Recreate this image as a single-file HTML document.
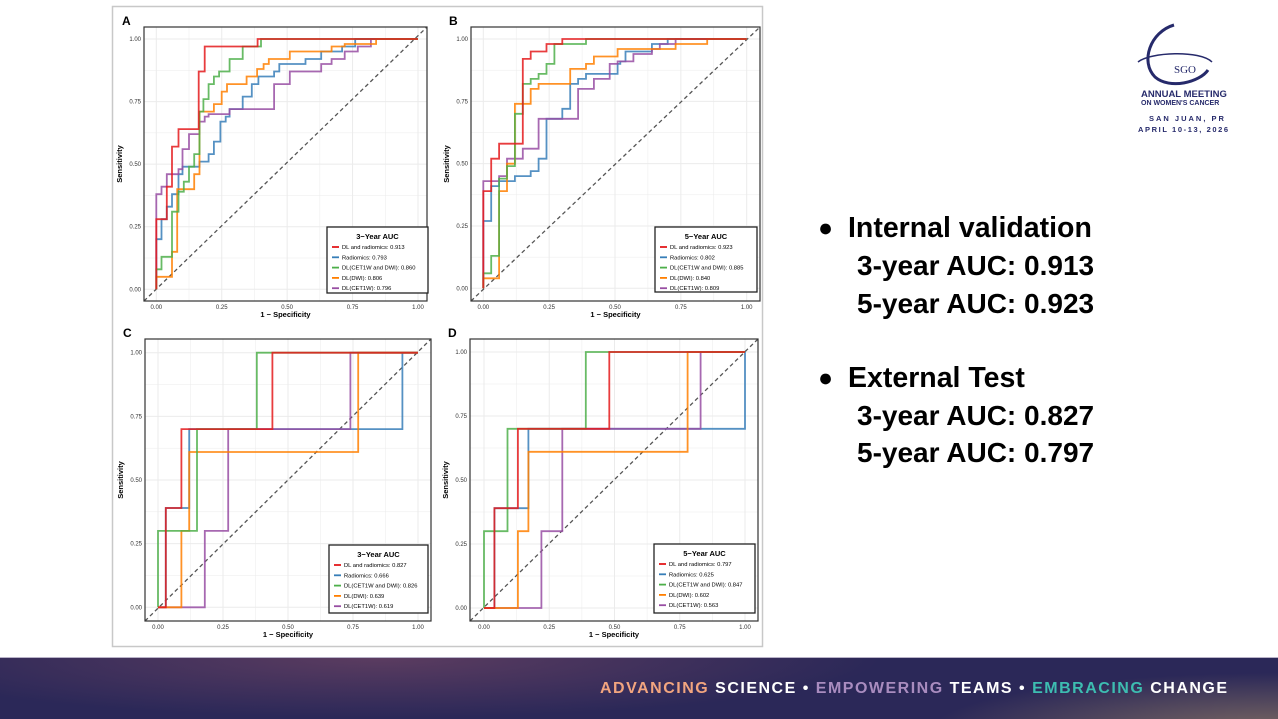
<!DOCTYPE html>
<html><head><meta charset="utf-8"><style>
html,body{margin:0;padding:0;width:1278px;height:718px;overflow:hidden;background:#fff;font-family:"Liberation Sans",sans-serif}
#fig{position:absolute;left:0;top:0}
.rt{position:absolute;font-weight:bold;color:#000;font-size:28px;white-space:nowrap}
.bl{position:absolute;font-size:25px;color:#000}
.banner{position:absolute;left:0;top:657px;width:1278px;height:61px;border-top:1px solid #b9b3c8;
background:radial-gradient(ellipse 500px 60px at 380px 0px,#5b3c60 0%,rgba(42,40,88,0) 100%),radial-gradient(ellipse 350px 60px at 1278px 75px,#7d6a62 0%,rgba(42,40,88,0) 100%),#2b2858}
.tag{position:absolute;left:600px;top:680px;font-size:16px;font-weight:bold;color:#fff;letter-spacing:1.5px;white-space:nowrap;font-family:"Liberation Sans",sans-serif}
</style></head><body>
<svg id="fig" width="1278" height="718" xmlns="http://www.w3.org/2000/svg"></svg>
<div class="bl" style="left:818px;top:214px">●</div>
<div class="rt" style="left:848px;top:212px;font-size:28.5px">Internal validation</div>
<div class="rt" style="left:857px;top:250px">3-year AUC: 0.913</div>
<div class="rt" style="left:857px;top:288px">5-year AUC: 0.923</div>
<div class="bl" style="left:818px;top:364px">●</div>
<div class="rt" style="left:848px;top:362px;font-size:28.5px">External Test</div>
<div class="rt" style="left:857px;top:400px">3-year AUC: 0.827</div>
<div class="rt" style="left:857px;top:437px">5-year AUC: 0.797</div>
<div class="banner"></div>
<div class="tag"><span style="color:#f2a57f">ADVANCING</span> SCIENCE • <span style="color:#a98cbf">EMPOWERING</span> TEAMS • <span style="color:#3dbdb1">EMBRACING</span> CHANGE</div>
<svg style="position:absolute;left:1130px;top:22px" width="120" height="115" xmlns="http://www.w3.org/2000/svg">
<g fill="none" stroke="#262a6b" stroke-width="3">
<path d="M 44 3 C 20 10, 10 40, 25 55 C 40 68, 70 60, 78 48" />
<path d="M 8 40 C 20 30, 70 28, 82 40" stroke-width="1.5"/>
</g>
<text x="44" y="51" font-family="Liberation Serif,serif" font-size="11" fill="#262a6b">SGO</text>
<text x="11" y="75" font-family="Liberation Sans,sans-serif" font-weight="bold" font-size="9.5" fill="#262a6b">ANNUAL MEETING</text>
<text x="11" y="83" font-family="Liberation Sans,sans-serif" font-weight="bold" font-size="7" fill="#262a6b">ON WOMEN'S CANCER</text>
<text x="19" y="99" font-family="Liberation Sans,sans-serif" font-size="7.5" font-weight="bold" letter-spacing="2" fill="#262a6b">SAN JUAN, PR</text>
<text x="8" y="110" font-family="Liberation Sans,sans-serif" font-size="7.5" font-weight="bold" letter-spacing="1.6" fill="#262a6b">APRIL 10-13, 2026</text>
</svg>
<script>
const C={r:"#e41a1c",b:"#377eb8",g:"#4daf4a",o:"#ff7f00",p:"#984ea3"};
const panels=[
{L:"A",rect:[144,27,427,301],x0:156.3,x1:418,y0:289.3,y1:39,leg:[327,227,428,293],title:"3−Year AUC",
 names:["DL and radiomics: 0.913","Radiomics: 0.793","DL(CET1W and DWI): 0.860","DL(DWI): 0.806","DL(CET1W): 0.796"],
 s:{b:"0,0 0,.2 .02,.2 .02,.28 .04,.28 .04,.33 .06,.33 .06,.38 .085,.38 .085,.46 .1,.46 .1,.49 .165,.49 .165,.51 .2,.51 .2,.54 .22,.54 .22,.59 .245,.59 .245,.67 .265,.67 .265,.69 .28,.69 .28,.72 .33,.72 .33,.77 .365,.77 .365,.82 .39,.82 .39,.85 .45,.85 .45,.87 .47,.87 .47,.9 .57,.9 .57,.92 .63,.92 .63,.95 .71,.95 .71,.97 .76,.97 .76,1 1,1",
 p:"0,0 0,.38 .02,.38 .02,.41 .04,.41 .04,.46 .085,.46 .085,.48 .1,.48 .1,.56 .125,.56 .125,.62 .165,.62 .165,.67 .185,.67 .185,.69 .2,.69 .2,.7 .28,.7 .28,.72 .45,.72 .45,.82 .51,.82 .51,.87 .63,.87 .63,.9 .67,.9 .67,.92 .72,.92 .72,.95 .77,.95 .77,.97 .82,.97 .82,1 1,1",
 o:"0,0 0,.05 .06,.05 .06,.15 .08,.15 .08,.4 .145,.4 .145,.46 .165,.46 .165,.71 .22,.71 .22,.74 .25,.74 .25,.79 .27,.79 .27,.82 .345,.82 .345,.85 .385,.85 .385,.88 .41,.88 .41,.9 .43,.9 .43,.92 .51,.92 .51,.95 .67,.95 .67,.97 .72,.97 .72,.98 .84,.98 .84,1 1,1",
 g:"0,0 0,.08 .02,.08 .02,.13 .06,.13 .06,.31 .085,.31 .085,.39 .105,.39 .105,.43 .125,.43 .125,.49 .145,.49 .145,.54 .165,.54 .165,.71 .18,.71 .18,.76 .2,.76 .2,.82 .22,.82 .22,.85 .24,.85 .24,.87 .28,.87 .28,.92 .33,.92 .33,.97 .4,.97 .4,1 1,1",
 r:"0,0 0,.28 .04,.28 .04,.41 .06,.41 .06,.57 .085,.57 .085,.64 .162,.64 .162,.87 .185,.87 .185,.97 .387,.97 .387,1 1,1"},
 tk:["0.00","0.25","0.50","0.75","1.00"]},
{L:"B",rect:[471,27,760,301],x0:483.3,x1:746.7,y0:288.3,y1:39,leg:[655,227,757,292],title:"5−Year AUC",
 names:["DL and radiomics: 0.923","Radiomics: 0.802","DL(CET1W and DWI): 0.885","DL(DWI): 0.840","DL(CET1W): 0.809"],
 s:{b:"0,0 0,.27 .03,.27 .03,.41 .06,.41 .06,.43 .12,.43 .12,.45 .18,.45 .18,.47 .21,.47 .21,.52 .24,.52 .24,.68 .3,.68 .3,.72 .33,.72 .33,.82 .36,.82 .36,.84 .39,.84 .39,.86 .51,.86 .51,.9 .52,.9 .52,.91 .54,.91 .54,.95 .64,.95 .64,.98 .7,.98 .7,1 1,1",
 p:"0,0 0,.43 .06,.43 .06,.45 .09,.45 .09,.52 .15,.52 .15,.56 .21,.56 .21,.68 .36,.68 .36,.8 .42,.8 .42,.84 .48,.84 .48,.9 .51,.9 .51,.91 .57,.91 .57,.94 .64,.94 .64,.96 .67,.96 .67,.98 .73,.98 .73,1 1,1",
 o:"0,0 0,.04 .06,.04 .06,.39 .09,.39 .09,.5 .12,.5 .12,.74 .18,.74 .18,.8 .21,.8 .21,.82 .33,.82 .33,.88 .39,.88 .39,.9 .42,.9 .42,.93 .51,.93 .51,.96 .73,.96 .73,.98 .85,.98 .85,1 1,1",
 g:"0,0 0,.06 .03,.06 .03,.13 .06,.13 .06,.44 .09,.44 .09,.49 .12,.49 .12,.7 .15,.7 .15,.82 .18,.82 .18,.84 .21,.84 .21,.86 .24,.86 .24,.9 .27,.9 .27,.98 .39,.98 .39,1 1,1",
 r:"0,0 0,.39 .03,.39 .03,.52 .06,.52 .06,.58 .15,.58 .15,.92 .18,.92 .18,.95 .24,.95 .24,.98 .3,.98 .3,1 1,1"},
 tk:["0.00","0.25","0.50","0.75","1.00"]},
{L:"C",rect:[145,339,431,621],x0:158,x1:418,y0:607.3,y1:352.7,leg:[329,545,428,613],title:"3−Year AUC",
 names:["DL and radiomics: 0.827","Radiomics: 0.666","DL(CET1W and DWI): 0.826","DL(DWI): 0.639","DL(CET1W): 0.619"],
 s:{g:"0,0 0,.3 .15,.3 .15,.7 .38,.7 .38,1 1,1",o:"0,0 .09,0 .09,.3 .12,.3 .12,.61 .77,.61 .77,1 1,1",
 b:"0,0 .03,0 .03,.39 .12,.39 .12,.7 .94,.7 .94,1 1,1",p:"0,0 .18,0 .18,.3 .27,.3 .27,.7 .74,.7 .74,1 1,1",
 r:"0,0 .03,0 .03,.39 .09,.39 .09,.7 .44,.7 .44,1 1,1"},
 tk:["0.00","0.25","0.50","0.75","1.00"]},
{L:"D",rect:[470,339,758,621],x0:484,x1:745,y0:608,y1:352,leg:[654,544,755,613],title:"5−Year AUC",
 names:["DL and radiomics: 0.797","Radiomics: 0.625","DL(CET1W and DWI): 0.847","DL(DWI): 0.602","DL(CET1W): 0.563"],
 s:{g:"0,0 0,.3 .09,.3 .09,.7 .39,.7 .39,1 1,1",o:"0,0 .13,0 .13,.3 .17,.3 .17,.61 .78,.61 .78,1 1,1",
 b:"0,0 .04,0 .04,.39 .17,.39 .17,.7 1,.7 1,1",p:"0,0 .22,0 .22,.3 .3,.3 .3,.7 .83,.7 .83,1 1,1",
 r:"0,0 .04,0 .04,.39 .13,.39 .13,.7 .48,.7 .48,1 1,1"},
 tk:["0.00","0.25","0.50","0.75","1.00"]}
];
let h='<rect x="112.5" y="6.5" width="650" height="640" fill="#fff" stroke="#c8c8c8" stroke-width="1.5"/>';
for(const P of panels){
 const X=v=>P.x0+v*(P.x1-P.x0),Y=v=>P.y0+v*(P.y1-P.y0);
 const [rx0,ry0,rx1,ry1]=P.rect;
 h+=`<text x="${rx0-22}" y="${ry0-2}" font-size="12" font-weight="bold" font-family="Liberation Sans,sans-serif">${P.L}</text>`;
 for(let i=0;i<=8;i++){const v=i/8;const w=i%2?0.5:1;
  h+=`<line x1="${X(v)}" x2="${X(v)}" y1="${ry0}" y2="${ry1}" stroke="#ebebeb" stroke-width="${w}"/>`;
  h+=`<line y1="${Y(v)}" y2="${Y(v)}" x1="${rx0}" x2="${rx1}" stroke="#ebebeb" stroke-width="${w}"/>`;}
 h+=`<line x1="${rx0}" y1="${ry1}" x2="${rx1}" y2="${ry0}" stroke="#555" stroke-width="1.3" stroke-dasharray="4,3"/>`;
 const toPts=s=>s.split(" ").map(q=>{const [a,b]=q.split(",").map(Number);return X(a).toFixed(1)+","+Y(b).toFixed(1)}).join(" ");
 for(const k of ["b","p","o","g","r"]) h+=`<polyline points="${toPts(P.s[k])}" fill="none" stroke="${C[k]}" stroke-width="1.8" stroke-opacity="0.85"/>`;
 h+=`<rect x="${rx0}" y="${ry0}" width="${rx1-rx0}" height="${ry1-ry0}" fill="none" stroke="#333" stroke-width="1.2"/>`;
 for(let i=0;i<5;i++){const v=i/4;
  h+=`<text x="${X(v)}" y="${ry1+8}" font-size="6" text-anchor="middle" fill="#333">${P.tk[i]}</text>`;
  h+=`<text x="${rx0-3}" y="${Y(v)+2}" font-size="6" text-anchor="end" fill="#333">${P.tk[i]}</text>`;}
 h+=`<text x="${(rx0+rx1)/2}" y="${ry1+16}" font-size="7.5" font-weight="bold" text-anchor="middle">1 − Specificity</text>`;
 h+=`<text transform="translate(${rx0-22},${(ry0+ry1)/2}) rotate(-90)" font-size="7.5" font-weight="bold" text-anchor="middle">Sensitivity</text>`;
 const [lx0,ly0,lx1,ly1]=P.leg;
 h+=`<rect x="${lx0}" y="${ly0}" width="${lx1-lx0}" height="${ly1-ly0}" fill="#fff" stroke="#222" stroke-width="1.3"/>`;
 h+=`<text x="${(lx0+lx1)/2}" y="${ly0+12}" font-size="7.5" font-weight="bold" text-anchor="middle">${P.title}</text>`;
 const cols=["r","b","g","o","p"];
 for(let i=0;i<5;i++){const yy=ly0+20+i*10.3;
  h+=`<line x1="${lx0+5}" x2="${lx0+12}" y1="${yy}" y2="${yy}" stroke="${C[cols[i]]}" stroke-width="1.8"/>`;
  h+=`<text x="${lx0+15}" y="${yy+2}" font-size="5.8">${P.names[i]}</text>`;}
}
document.getElementById("fig").innerHTML=h;
</script>
</body></html>
